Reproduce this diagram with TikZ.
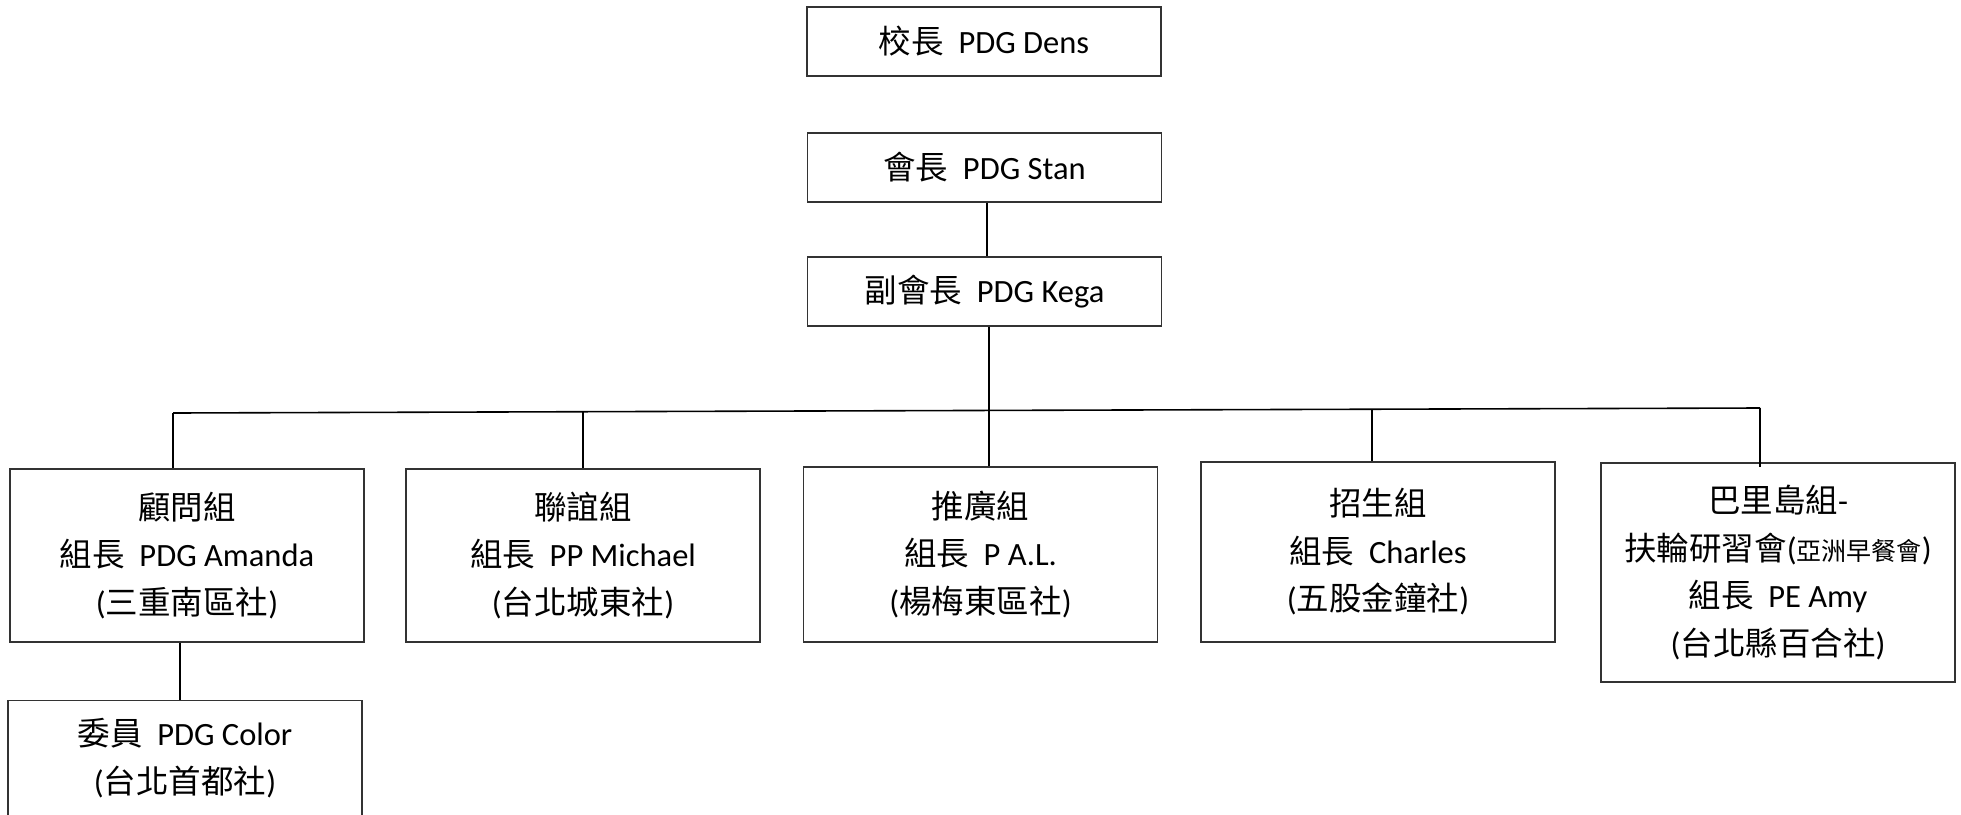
\documentclass[tikz,border=0pt]{standalone}
\usepackage{fontspec}
\setmainfont{Carlito}
\newfontfamily\cjk{Noto Sans CJK TC}
\begin{document}
\begin{tikzpicture}[x=1pt,y=-1pt,
  box/.style={draw=black!80,line width=1.3pt,minimum width=354pt,inner sep=0pt,
    align=center,font=\fontsize{32.5}{47.5}\selectfont},
  conn/.style={line width=1.6pt,black}]
\useasboundingbox[fill=white] (0,0) rectangle (1961,814);
\newcommand\cj[1]{{\cjk #1}}
\newcommand\gp{\hspace{0.45em}}
\node[box,minimum height=69pt] (dens) at (984,41.5) {\cj{校長}\gp PDG Dens};
\node[box,minimum height=69pt] (stan) at (984.5,167.5) {\cj{會長}\gp PDG Stan};
\node[box,minimum height=69pt] (kega) at (984.5,291.5) {\cj{副會長}\gp PDG Kega};

\node[box,minimum height=173pt] (gw) at (187,555.5) {\cj{顧問組}\\\cj{組長}\gp PDG Amanda\\(\cj{三重南區社})};
\node[box,minimum height=173pt] (ly) at (583,555.5) {\cj{聯誼組}\\\cj{組長}\gp PP Michael\\(\cj{台北城東社})};
\node[box,minimum height=175pt] (tg) at (980.5,554.5) {\cj{推廣組}\\\cj{組長}\gp P A.L.\\(\cj{楊梅東區社})};
\node[box,minimum height=180pt] (zs) at (1378,552) {\cj{招生組}\\\cj{組長}\gp Charles\\(\cj{五股金鐘社})};
\node[box,minimum height=219pt] (bl) at (1778,572.5) {\cj{巴里島組}-\\\cj{扶輪研習會}({\fontsize{25}{30}\selectfont\cj{亞洲早餐會}})\\\cj{組長}\gp PE Amy\\(\cj{台北縣百合社})};
\node[box,minimum height=115pt] (wy) at (185,758) {\cj{委員}\gp PDG Color\\(\cj{台北首都社})};

\coordinate (b1) at (173,413);
\coordinate (b2) at (583,411.7);
\coordinate (b3) at (989,410.4);
\coordinate (b4) at (1372,409.2);
\coordinate (b5) at (1760,408);
\coordinate (s1) at (987,0);
\coordinate (g1) at (180,0);

\draw[conn] (s1 |- stan.south) -- (s1 |- kega.north);
\draw[conn] (b3 |- kega.south) -- (b3);
\draw[conn] (b1) -- (b5);
\draw[conn] (b1) -- (b1 |- gw.north);
\draw[conn] (b2) -- (b2 |- ly.north);
\draw[conn] (b3) -- (b3 |- tg.north);
\draw[conn] (b4) -- (b4 |- zs.north);
\draw[conn] (b5) -- ([yshift=-5pt]b5 |- bl.north);
\draw[conn] (g1 |- gw.south) -- (g1 |- wy.north);
\end{tikzpicture}
\end{document}
